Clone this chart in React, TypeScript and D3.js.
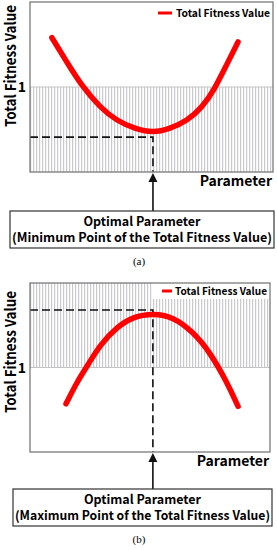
import * as d3 from 'd3';

// curve (a): fitness falls to a minimum, then rises
const paramA = [0.9, 1.52, 2.14, 2.88, 3.58, 4.32, 5.06, 5.76, 6.46, 7.08, 7.57, 8.07, 8.56];
const fitnessA = [1.58, 1.29, 1.01, 0.76, 0.6, 0.51, 0.46, 0.51, 0.6, 0.76, 0.96, 1.25, 1.53];
// curve (b): fitness rises to a maximum, then falls
const paramB = [1.5, 1.96, 2.37, 2.92, 3.63, 4.29, 5.12, 5.96, 6.8, 7.5, 8.2, 8.67];
const fitnessB = [0.57, 0.83, 1.01, 1.27, 1.48, 1.6, 1.64, 1.6, 1.42, 1.18, 0.83, 0.54];

// optimum markers (dashed guides): [param, fitness]
const optimumA = [5.06, 0.41];
const optimumB = [5.12, 1.68];

const yTicks = [1];
const legendLabel = 'Total Fitness Value';
const yLabel = 'Total Fitness Value';
const xLabel = 'Parameter';
const boxTitle = 'Optimal Parameter';
const boxNoteA = '(Minimum Point of the Total Fitness Value)';
const boxNoteB = '(Maximum Point of the Total Fitness Value)';
const captions = ['(a)', '(b)'];

const FONT = "'Noto Sans CJK KR', 'Noto Sans', sans-serif";

type PanelProps = {
  id: string;
  xs: number[];
  ys: number[];
  opt: number[];
  frame: { x0: number; x1: number; y0: number; y1: number };
  hatchBelow: boolean;
  labelY: number;
  legend: { lx0: number; lx1: number; ly: number; tx: number; bx0?: number; by1?: number };
  box: { x0: number; x1: number; y0: number; y1: number };
  note: string;
  caption: string;
  captionY: number;
};

function Panel({ id, xs, ys, opt, frame, hatchBelow, labelY, legend, box, note, caption, captionY }: PanelProps) {
  const x = d3.scaleLinear().domain([0, 10]).range([frame.x0, frame.x1]);
  const y = d3.scaleLinear().domain([0, 2]).range([frame.y1, frame.y0]);
  const pts = xs.map((v, i) => [v, ys[i]] as [number, number]);
  const line = d3.line<[number, number]>()
    .x(d => x(d[0]))
    .y(d => y(d[1]))
    .curve(d3.curveBasis);

  const one = y(yTicks[0]);
  const hatchY0 = hatchBelow ? one : frame.y0;
  const hatchY1 = hatchBelow ? frame.y1 : one;
  const ox = x(opt[0]);
  const oy = y(opt[1]);
  const cx = (box.x0 + box.x1) / 2;

  return (
    <g>
      <defs>
        <pattern id={`hatch-${id}`} width={3} height={4} patternUnits="userSpaceOnUse">
          <rect x={0} y={0} width={3} height={4} fill="#fff" />
          <rect x={0} y={0} width={1.2} height={4} fill="#c9c9cf" />
        </pattern>
      </defs>
      <rect x={frame.x0} y={hatchY0} width={frame.x1 - frame.x0} height={hatchY1 - hatchY0} fill={`url(#hatch-${id})`} />
      {legend.bx0 !== undefined && (
        <rect x={legend.bx0} y={frame.y0} width={frame.x1 - legend.bx0} height={(legend.by1 as number) - frame.y0} fill="#fff" />
      )}
      {yTicks.map(t => (
        <g key={t}>
          <line x1={frame.x0} x2={frame.x1} y1={y(t)} y2={y(t)} stroke="#c4c4c4" strokeWidth={1} />
          <text x={frame.x0 - 4} y={y(t) + 5} textAnchor="end" fontFamily={FONT} fontSize={14} fontWeight={600}>{t}</text>
        </g>
      ))}
      {/* guides to the optimum */}
      <path d={`M${frame.x0},${oy}H${ox}V${frame.y1}`} fill="none" stroke="#111" strokeWidth={1.6} strokeDasharray="8,4" />
      <path d={line(pts) as string} fill="none" stroke="#ff0000" strokeWidth={5.5} strokeLinecap="round" />
      <rect x={frame.x0} y={frame.y0} width={frame.x1 - frame.x0} height={frame.y1 - frame.y0} fill="none" stroke="#7a7a7a" strokeWidth={1.3} />

      {/* legend */}
      <line x1={legend.lx0} x2={legend.lx1} y1={legend.ly} y2={legend.ly} stroke="#ff0000" strokeWidth={3} />
      <text x={legend.tx} y={legend.ly + 4} fontFamily={FONT} fontSize={10.5} fontWeight={700}
        textLength={frame.x1 - 3 - legend.tx} lengthAdjust="spacingAndGlyphs">{legendLabel}</text>

      {/* axis labels */}
      <text transform={`translate(16,${labelY}) rotate(-90)`} textAnchor="middle" fontFamily={FONT} fontSize={15} fontWeight={700}
        textLength={122} lengthAdjust="spacingAndGlyphs">{yLabel}</text>
      <text x={frame.x1 - 1} y={frame.y1 + 14} textAnchor="end" fontFamily={FONT} fontSize={14} fontWeight={700}>{xLabel}</text>

      {/* arrow from box to optimum */}
      <line x1={ox} x2={ox} y1={box.y0} y2={frame.y1 + 6} stroke="#111" strokeWidth={1.6} />
      <path d={`M${ox},${frame.y1 + 1}L${ox + 4.5},${frame.y1 + 10}L${ox - 4.5},${frame.y1 + 10}Z`} fill="#111" />

      <rect x={box.x0} y={box.y0} width={box.x1 - box.x0} height={box.y1 - box.y0} fill="#fff" stroke="#333" strokeWidth={1.2} />
      <text x={cx} y={box.y0 + 15} textAnchor="middle" fontFamily={FONT} fontSize={12.5} fontWeight={700}>{boxTitle}</text>
      <text x={cx} y={box.y0 + 31} textAnchor="middle" fontFamily={FONT} fontSize={12.5} fontWeight={700}
        textLength={box.x1 - box.x0 - 4} lengthAdjust="spacingAndGlyphs">{note}</text>

      <text x={139} y={captionY} textAnchor="middle" fontFamily="'Liberation Serif', serif" fontSize={11}>{caption}</text>
    </g>
  );
}

export default function App() {
  return (
    <svg width={277} height={550} style={{ position: 'absolute', left: 0, top: 0, background: '#fff' }}>
      <Panel
        id="a"
        xs={paramA}
        ys={fitnessA}
        opt={optimumA}
        frame={{ x0: 30, x1: 273, y0: 2, y1: 172 }}
        hatchBelow={true}
        labelY={66}
        legend={{ lx0: 158, lx1: 172, ly: 13, tx: 176 }}
        box={{ x0: 10, x1: 274, y0: 211, y1: 248 }}
        note={boxNoteA}
        caption={captions[0]}
        captionY={265}
      />
      <Panel
        id="b"
        xs={paramB}
        ys={fitnessB}
        opt={optimumB}
        frame={{ x0: 30, x1: 270, y0: 283, y1: 452 }}
        hatchBelow={false}
        labelY={352}
        legend={{ lx0: 162, lx1: 172, ly: 291, tx: 175, bx0: 152, by1: 299 }}
        box={{ x0: 13, x1: 272, y0: 489, y1: 526 }}
        note={boxNoteB}
        caption={captions[1]}
        captionY={543}
      />
    </svg>
  );
}
